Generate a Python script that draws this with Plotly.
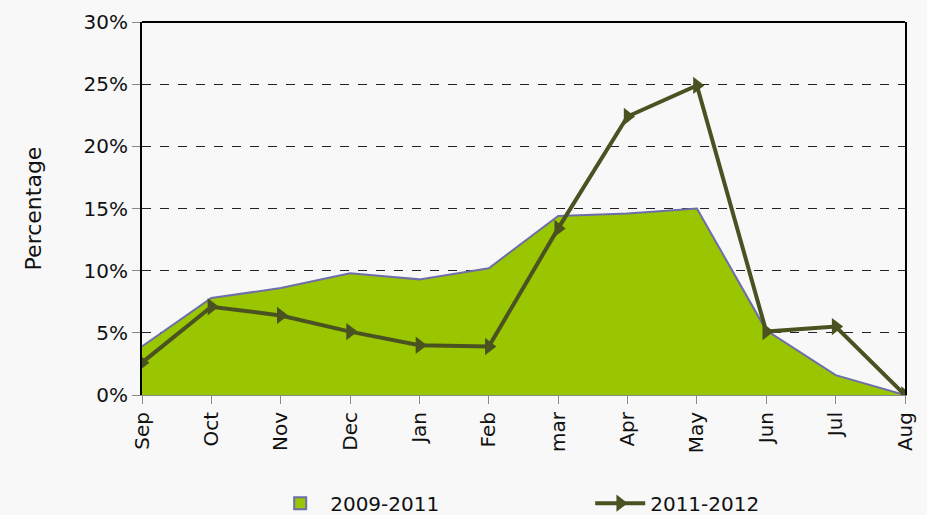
import plotly.graph_objects as go

months = ["Sep", "Oct", "Nov", "Dec", "Jan", "Feb", "mar", "Apr", "May", "Jun", "Jul", "Aug"]
series_2009_2011 = [3.9, 7.8, 8.6, 9.8, 9.3, 10.2, 14.4, 14.6, 15.0, 5.2, 1.6, 0.0]
series_2011_2012 = [2.6, 7.1, 6.4, 5.1, 4.0, 3.9, 13.4, 22.4, 24.9, 5.1, 5.5, 0.0]
y_ticks = [0, 5, 10, 15, 20, 25, 30]
y_tick_labels = [f"{v}%" for v in y_ticks]

FONT = "DejaVu Sans"
GREEN = "#99C600"
PURPLE = "#6E6EAA"
OLIVE = "#4A5222"

fig = go.Figure()
fig.add_trace(go.Scatter(
    x=months, y=series_2009_2011, name="2009-2011", mode="lines",
    fill="tozeroy", fillcolor=GREEN,
    line=dict(color=PURPLE, width=2), showlegend=False,
))
# legend-only entry for the area (rectangle with border)
fig.add_trace(go.Bar(
    x=[None], y=[None], name="2009-2011",
    marker=dict(color=GREEN, line=dict(color=PURPLE, width=2)),
))
fig.add_trace(go.Scatter(
    x=months, y=series_2011_2012, name="2011-2012", mode="lines+markers",
    line=dict(color=OLIVE, width=4),
    marker=dict(symbol="triangle-right", size=15, color=OLIVE),
))

fig.update_layout(
    width=927, height=515,
    paper_bgcolor="#F8F8F8", plot_bgcolor="#F8F8F8",
    margin=dict(l=142, r=22, t=22, b=120, autoexpand=False),
    font=dict(family=FONT, size=20, color="#111111"),
    showlegend=True,
    legend=dict(orientation="h", xanchor="left", x=0.168,
                yref="container", y=0.023, yanchor="middle",
                font=dict(size=20), entrywidth=255, itemwidth=50,
                bgcolor="rgba(0,0,0,0)", traceorder="normal"),
    shapes=[dict(type="line", xref="paper", yref="paper", x0=0, x1=1, y0=1, y1=1,
                 line=dict(color="black", width=2))],
)
fig.update_xaxes(
    type="category", range=[0, 11], tickangle=-90,
    showgrid=False, showline=True, linecolor="#888888", linewidth=1,
    ticks="outside", ticklen=8, tickcolor="#888888",
    tickfont=dict(family=FONT, size=20),
    zeroline=False, automargin=False,
)
fig.update_yaxes(
    range=[0, 30], tickvals=y_ticks, ticktext=y_tick_labels,
    showgrid=True, gridcolor="#222222", griddash="dash", gridwidth=1,
    showline=True, mirror=True, linecolor="black", linewidth=2,
    ticks="outside", ticklen=8, tickcolor="#888888",
    title=dict(text="Percentage", font=dict(family=FONT, size=22), standoff=36),
    zeroline=False, automargin=False,
)

fig.write_html("out.html", config={"displayModeBar": False},
               post_script="document.body.style.margin='0px';")
